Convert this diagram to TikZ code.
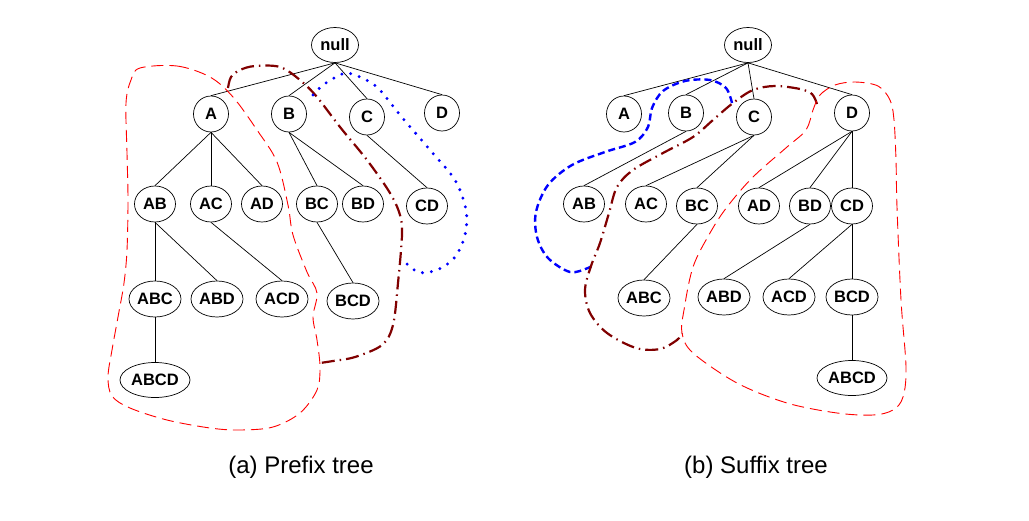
\documentclass[tikz,border=0pt]{standalone}
\usepackage{fontspec}
\setmainfont{Liberation Sans}
\usetikzlibrary{shapes.geometric}
\definecolor{dred}{RGB}{128,0,0}
\tikzset{
  tn/.style={draw, ellipse, inner sep=0pt, line width=0.7pt, font=\fontsize{16.5}{16.5}\selectfont\bfseries},
  c1/.style={tn, minimum width=35pt, minimum height=36pt},
  c2/.style={tn, minimum width=41pt, minimum height=36pt},
  c3/.style={tn, minimum width=52pt, minimum height=36pt},
  c4/.style={tn, minimum width=70pt, minimum height=35pt},
  cn/.style={tn, minimum width=47pt, minimum height=35pt},
  edge/.style={line width=0.7pt},
  reddash/.style={red, line width=0.9pt, dash pattern=on 12pt off 6pt},
  dashdot/.style={dred, line width=2.2pt, dash pattern=on 13pt off 5pt on 1.5pt off 5pt},
  bluedot/.style={blue, line width=3.3pt, line cap=round, dash pattern=on 0pt off 9pt},
  bluedash/.style={blue, line width=2.4pt, dash pattern=on 7pt off 4pt},
  caption/.style={font=\fontsize{24}{24}\selectfont}
}
\begin{document}
\begin{tikzpicture}[x=1pt,y=-1pt]
\useasboundingbox (0,0) rectangle (1029,520);
% ---------- left: prefix tree
\node[cn] (Ln) at (335,45) {null};
\node[c1] (LA) at (211,114) {A};
\node[c1] (LB) at (289,114) {B};
\node[c1] (LC) at (367,117) {C};
\node[c1] (LD) at (442,113) {D};
\node[c2] (LAB) at (155,204) {AB};
\node[c2] (LAC) at (211,204) {AC};
\node[c2] (LAD) at (262,204) {AD};
\node[c2] (LBC) at (317,204) {BC};
\node[c2] (LBD) at (363,204) {BD};
\node[c2] (LCD) at (427,206) {CD};
\node[c3] (LABC) at (155,299) {ABC};
\node[c3] (LABD) at (217,299) {ABD};
\node[c3] (LACD) at (282,299) {ACD};
\node[c3] (LBCD) at (353,301) {BCD};
\node[c4] (LABCD) at (155,380) {ABCD};
\foreach \a/\b in {Ln/LA,Ln/LB,Ln/LC,Ln/LD,LA/LAB,LA/LAC,LA/LAD,LB/LBC,LB/LBD,LC/LCD,LAB/LABC,LAB/LABD,LAC/LACD,LBC/LBCD,LABC/LABCD}
  \draw[edge] (\a.south) -- (\b.north);
\draw[reddash] plot[smooth cycle, tension=0.55] coordinates {
 (140,68) (177,66) (210,77) (233,97) (257,130) (277,162) (288,205) (293,235)
 (307,272) (317,293) (313,317) (317,340) (320,367) (317,390) (300,413) (273,427)
 (240,430) (210,428) (167,420) (130,408) (112,396) (108,377) (112,350) (118,317)
 (124,283) (127,250) (128,200) (127,153) (126,103) (131,80)};
\draw[dashdot] plot[smooth, tension=0.55] coordinates {
 (228,88) (231,77) (240,70) (255,66) (280,67) (300,80) (317,97) (340,127)
 (367,160) (390,193) (400,215) (402,235) (398,283) (393,325) (382,345) (355,357)
 (333,361) (320,363)};
\draw[bluedot] plot[smooth, tension=0.55] coordinates {
 (313,95) (323,85) (338,76) (347,73) (360,77) (378,88) (400,115) (430,150)
 (455,180) (466,210) (465,235) (455,257) (437,270) (418,272) (403,260)};
\node[caption] (capa) at (301,467) {(a) Prefix tree};
% ---------- right: suffix tree
\node[cn] (Rn) at (748,45) {null};
\node[c1] (RA) at (624,114) {A};
\node[c1] (RB) at (686,113) {B};
\node[c1] (RC) at (754,117) {C};
\node[c1] (RD) at (852,113) {D};
\node[c2] (RAB) at (584,204) {AB};
\node[c2] (RAC) at (646,204) {AC};
\node[c2] (RBC) at (697,206) {BC};
\node[c2] (RAD) at (759,206) {AD};
\node[c2] (RBD) at (810,206) {BD};
\node[c2] (RCD) at (852,206) {CD};
\node[c3] (RABC) at (644,298) {ABC};
\node[c3] (RABD) at (724,297) {ABD};
\node[c3] (RACD) at (789,297) {ACD};
\node[c3] (RBCD) at (852,297) {BCD};
\node[c4] (RABCD) at (852,378) {ABCD};
\foreach \a/\b in {Rn/RA,Rn/RB,Rn/RC,Rn/RD,RB/RAB,RC/RAC,RC/RBC,RD/RAD,RD/RBD,RD/RCD,RBC/RABC,RBD/RABD,RCD/RACD,RCD/RBCD,RBCD/RABCD}
  \draw[edge] (\a.south) -- (\b.north);
\draw[bluedash] plot[smooth, tension=0.55] coordinates {
 (732,103) (726,88) (710,80) (685,81) (663,91) (652,108) (648,127) (635,142)
 (605,152) (572,165) (548,185) (536,212) (537,237) (548,258) (570,272) (588,268) (592,265)};
\draw[dashdot] plot[smooth, tension=0.55] coordinates {
 (817,104) (812,94) (800,89) (775,86) (753,90) (733,103) (713,120) (693,137)
 (663,153) (633,170) (617,187) (609,213) (600,243) (591,266) (585,290) (590,313)
 (607,333) (636,348) (660,349) (677,340) (682,333)};
\draw[reddash] plot[smooth cycle, tension=0.55] coordinates {
 (813,110) (820,95) (835,85) (855,82) (878,86) (890,100) (894,120) (896,160)
 (897,207) (901,300) (906,367) (903,397) (893,410) (873,415) (837,413) (787,403)
 (737,383) (693,353) (682,333) (684,310) (693,267) (710,233) (727,207) (753,177)
 (787,147) (806,130)};
\node[caption] (capb) at (756,467) {(b) Suffix tree};
\end{tikzpicture}
\end{document}
